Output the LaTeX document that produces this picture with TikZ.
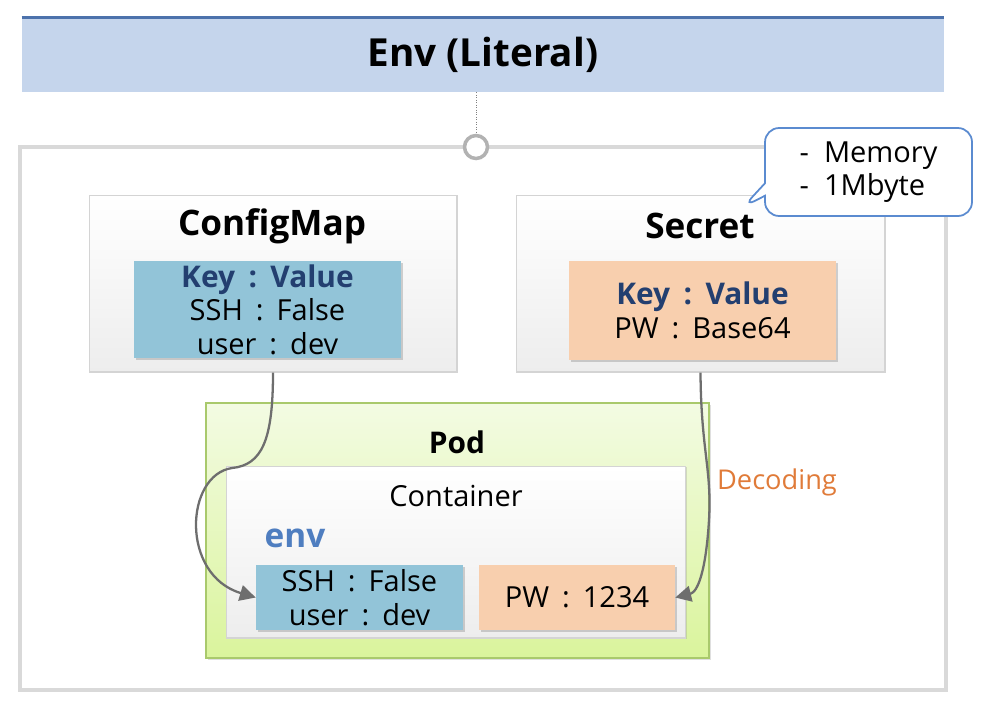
\documentclass[tikz,border=0pt]{standalone}
\usepackage{fontspec}
\setmainfont{Open Sans}
\usetikzlibrary{arrows.meta,shadows,shapes.callouts}

\definecolor{titlefill}{HTML}{C5D5EC}
\definecolor{titleline}{HTML}{4C72AC}
\definecolor{framegray}{HTML}{D9D9D9}
\definecolor{boxline}{HTML}{D4D4D4}
\definecolor{boxgray}{HTML}{EDEDED}
\definecolor{tealfill}{HTML}{92C4D8}
\definecolor{peachfill}{HTML}{F8CFAE}
\definecolor{kvblue}{HTML}{233F70}
\definecolor{envblue}{HTML}{4F7EC0}
\definecolor{podline}{HTML}{A9C96C}
\definecolor{podtop}{HTML}{F3FBE3}
\definecolor{podbottom}{HTML}{DAF49C}
\definecolor{decodeorange}{HTML}{E07B39}
\definecolor{callline}{HTML}{5B8BD0}
\definecolor{flowgray}{HTML}{6E6E6E}

\newcommand{\kv}[2]{#1\hspace{0.45em}:\hspace{0.45em}#2}

\begin{document}
\begin{tikzpicture}[x=0.02cm,y=-0.02cm,
    panel/.style={draw=boxline,line width=0.6pt,top color=white,bottom color=boxgray,
      drop shadow={shadow xshift=0.8pt,shadow yshift=-0.8pt,opacity=0.25}},
    kvteal/.style={fill=tealfill,align=center,inner sep=0pt,font=\fontsize{16.5}{19}\selectfont,
      drop shadow={shadow xshift=1.2pt,shadow yshift=-1.2pt,opacity=0.35}},
    kvpeach/.style={kvteal,fill=peachfill},
    heading/.style={font=\fontsize{20}{24}\selectfont\bfseries},
    flow/.style={draw=flowgray,line width=1.3pt,-{Triangle[length=9pt,width=9pt]}}]
  \useasboundingbox (0,0) rectangle (982,704);

  % header and outer frame
  \node[fill=titlefill,minimum width=18.44cm,minimum height=1.48cm] (title) at (483,55)
    {\fontsize{22}{26}\selectfont\bfseries Env (Literal)};
  \draw[titleline,line width=1.8pt] (title.north west) -- (title.north east);
  \node[draw=framegray,line width=2.3pt,minimum width=18.52cm,minimum height=10.86cm] (frame) at (483,418.5) {};
  \node[circle,draw=gray!60,line width=2pt,fill=white,minimum size=0.46cm] (hook) at (476,147) {};
  \draw[gray,densely dotted,line width=0.4pt] (hook.north |- title.south) -- (hook.north);

  % ConfigMap
  \node[panel,minimum width=7.36cm,minimum height=3.54cm] (cm) at (273,283.5) {};
  \node[heading] (cmname) at (272,226) {ConfigMap};
  \node[kvteal,minimum width=5.34cm,minimum height=1.94cm] (cmkv) at (267.5,309.5)
    {\textcolor{kvblue}{\fontsize{17}{19}\selectfont\bfseries \kv{Key}{Value}}\\\kv{SSH}{False}\\\kv{user}{dev}};

  % Secret
  \node[panel,minimum width=7.38cm,minimum height=3.54cm] (sec) at (700.5,283.5) {};
  \node[heading] (secname) at (700,226) {Secret};
  \node[kvpeach,minimum width=5.34cm,minimum height=1.98cm] (seckv) at (702.5,310.5)
    {\textcolor{kvblue}{\fontsize{17}{19}\selectfont\bfseries \kv{Key}{Value}}\\\kv{PW}{Base64}};

  \node[rectangle callout,rounded corners=8pt,draw=callline,line width=1pt,fill=white,
    minimum width=4.14cm,minimum height=1.76cm,align=left,font=\fontsize{16.5}{19}\selectfont,
    callout absolute pointer={(743,207)}] (note) at (868.5,172) {-\ \ Memory\\-\ \ 1Mbyte};

  % Pod and container
  \node[draw=podline,line width=1pt,top color=podtop,bottom color=podbottom,
    minimum width=10.06cm,minimum height=5.10cm,
    drop shadow={shadow xshift=1pt,shadow yshift=-1pt,opacity=0.25}] (pod) at (457.5,530.5) {};
  \node[font=\fontsize{17}{20}\selectfont\bfseries] (podname) at (457,442) {Pod};
  \node[panel,minimum width=9.2cm,minimum height=3.44cm] (box) at (456,552) {};
  \node[font=\fontsize{16.5}{19}\selectfont] (boxname) at (456,496) {Container};
  \node[font=\fontsize{19}{22}\selectfont\bfseries,text=envblue] (envname) at (295,538) {env};
  \node[kvteal,minimum width=4.14cm,minimum height=1.30cm] (envkv) at (359.5,597.5)
    {\kv{SSH}{False}\\\kv{user}{dev}};
  \node[kvpeach,minimum width=3.92cm,minimum height=1.30cm] (pw) at (577,597.5) {\kv{PW}{1234}};
  \node[text=decodeorange,font=\fontsize{15.5}{18}\selectfont] (decode) at (777,482) {Decoding};

  % value flow
  \draw[flow] (cm.south) .. controls (273,440) and (262,465) .. (232,468)
    .. controls (185,475) and (180,575) .. (envkv.west);
  \draw[flow] (sec.south) .. controls (701,450) and (712,470) .. (709,520)
    .. controls (706,570) and (698,592) .. (pw.east);
\end{tikzpicture}
\end{document}
